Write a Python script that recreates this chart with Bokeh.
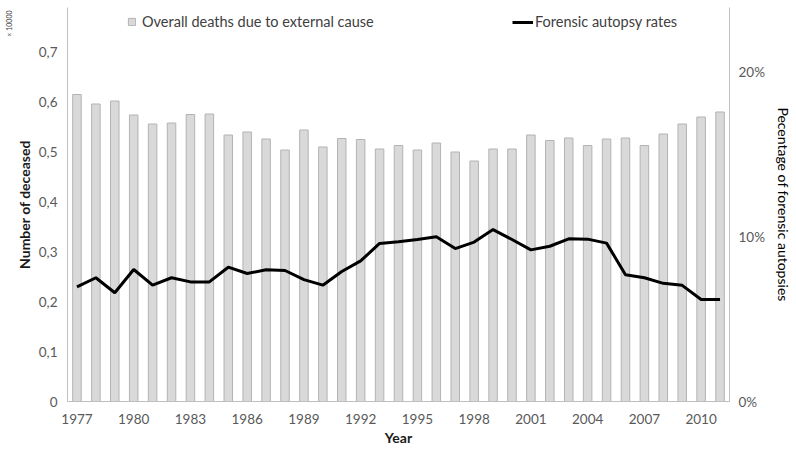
from bokeh.plotting import figure
from bokeh.models import (Range1d, LinearAxis, FixedTicker, Legend, LegendItem, Title)
from bokeh.embed import file_html
from bokeh.resources import INLINE

years = [1977, 1978, 1979, 1980, 1981, 1982, 1983, 1984, 1985, 1986, 1987, 1988,
         1989, 1990, 1991, 1992, 1993, 1994, 1995, 1996, 1997, 1998, 1999, 2000,
         2001, 2002, 2003, 2004, 2005, 2006, 2007, 2008, 2009, 2010, 2011]

# overall deaths due to external cause (x 10000)
deaths = [0.614, 0.595, 0.601, 0.573, 0.555, 0.557, 0.574, 0.575, 0.533, 0.539,
          0.525, 0.503, 0.543, 0.509, 0.526, 0.524, 0.505, 0.512, 0.503, 0.517,
          0.499, 0.481, 0.505, 0.505, 0.533, 0.522, 0.527, 0.512, 0.525, 0.527,
          0.512, 0.535, 0.555, 0.569, 0.579]

# forensic autopsy rates (fraction)
autopsy = [0.0695, 0.0750, 0.0659, 0.0800, 0.0705, 0.0750, 0.0725, 0.0725, 0.0814, 0.0776,
           0.0798, 0.0794, 0.0739, 0.0705, 0.0788, 0.0852, 0.0958, 0.0968, 0.0982, 0.0998,
           0.0927, 0.0966, 0.1042, 0.0982, 0.0919, 0.0941, 0.0986, 0.0984, 0.0960, 0.0768,
           0.0750, 0.0716, 0.0704, 0.0618, 0.0618]

left_ticks = [0, 0.1, 0.2, 0.3, 0.4, 0.5, 0.6, 0.7]
left_labels = ["0", "0,1", "0,2", "0,3", "0,4", "0,5", "0,6", "0,7"]
right_ticks = [0, 0.1, 0.2]
right_labels = ["0%", "10%", "20%"]
x_ticks = [1977, 1980, 1983, 1986, 1989, 1992, 1995, 1998, 2001, 2004, 2007, 2010]

FONT = "Lato"
TICK_COLOR = "#595959"
AXIS_COLOR = "#bfbfbf"

p = figure(frame_width=662, frame_height=394, output_backend="svg", toolbar_location=None,
           x_range=Range1d(1976.5, 2011.5), y_range=Range1d(0, 0.788),
           min_border_left=67, min_border_right=67, min_border_top=7, min_border_bottom=44)
p.extra_y_ranges = {"pct": Range1d(0, 0.2388)}
p.outline_line_color = None
p.xgrid.visible = False
p.ygrid.visible = False
p.background_fill_color = "white"

bars = p.vbar(x=years, top=deaths, width=0.45, fill_color="#d9d9d9",
              line_color="#b3b3b3", line_width=1)
line = p.line(x=years, y=autopsy, y_range_name="pct", line_color="black", line_width=3)

def style_axis(ax):
    ax.axis_line_color = AXIS_COLOR
    ax.axis_line_width = 1
    ax.major_tick_line_color = None
    ax.minor_tick_line_color = None
    ax.major_tick_out = 0
    ax.major_tick_in = 0
    ax.major_label_text_font = FONT
    ax.major_label_text_font_size = "13.5px"
    ax.major_label_text_color = TICK_COLOR
    ax.axis_label_text_font = FONT
    ax.axis_label_text_font_size = "14px"
    ax.axis_label_text_font_style = "bold"
    ax.axis_label_text_color = "#1a1a1a"

xa = p.xaxis[0]
style_axis(xa)
xa.ticker = FixedTicker(ticks=x_ticks)
xa.axis_label = "Year"
xa.major_label_standoff = 12
xa.axis_label_standoff = 2

ya = p.yaxis[0]
style_axis(ya)
ya.ticker = FixedTicker(ticks=left_ticks)
ya.major_label_overrides = {t: l for t, l in zip(left_ticks, left_labels)}
ya.axis_label = "Number of deceased"
ya.major_label_standoff = 10
ya.axis_label_standoff = 3

ra = LinearAxis(y_range_name="pct", ticker=FixedTicker(ticks=right_ticks))
style_axis(ra)
ra.major_label_overrides = {t: l for t, l in zip(right_ticks, right_labels)}
ra.axis_label = "Pecentage of forensic autopsies"
ra.axis_label_text_font_style = "normal"
ra.axis_label_text_color = "#000000"
ra.major_label_standoff = 9
ra.axis_label_standoff = 7
p.add_layout(ra, "right")

leg1 = Legend(items=[LegendItem(label="Overall deaths due to external cause", renderers=[bars])],
              location=(60, 371), glyph_width=9, glyph_height=9, label_standoff=6,
              padding=0, margin=0, spacing=0, border_line_alpha=0, background_fill_alpha=0,
              label_text_font=FONT, label_text_font_size="14.5px", label_text_color="#404040",
              label_height=16)
leg2 = Legend(items=[LegendItem(label="Forensic autopsy rates", renderers=[line])],
              location=(445, 371), glyph_width=21, glyph_height=16, label_standoff=2,
              padding=0, margin=0, spacing=0, border_line_alpha=0, background_fill_alpha=0,
              label_text_font=FONT, label_text_font_size="14.5px", label_text_color="#404040",
              label_height=16)
p.add_layout(leg1)
p.add_layout(leg2)

mult = Title(text="\u00d7 10000", align="right", text_font=FONT, text_font_size="7px",
             text_font_style="normal", text_color="#404040", standoff=0, offset=3)
p.add_layout(mult, "left")

open("out.html", "w").write(file_html(p, INLINE))
